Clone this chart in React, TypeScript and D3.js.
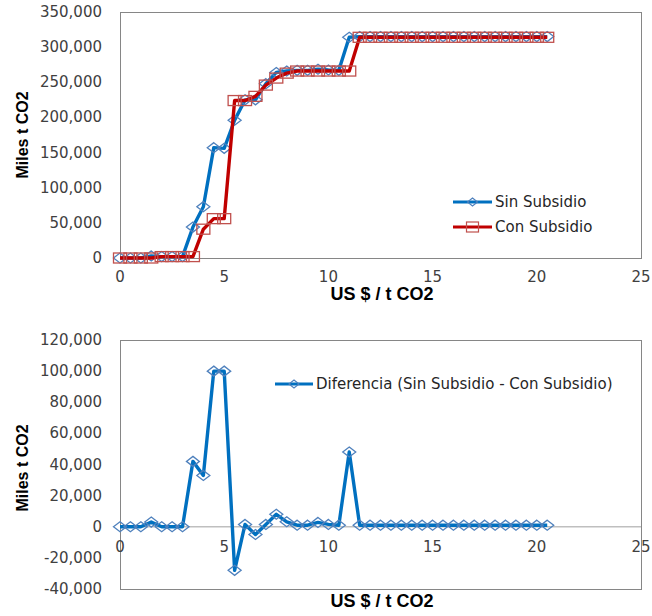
import React, { useEffect, useRef } from 'react';
import * as d3 from 'd3';

// precio (US$ / t CO2)
const precios = [0, 0.5, 1, 1.5, 2, 2.5, 3, 3.5, 4, 4.5, 5, 5.5, 6, 6.5, 7, 7.5, 8, 8.5, 9, 9.5, 10, 10.5,
  11, 11.5, 12, 12.5, 13, 13.5, 14, 14.5, 15, 15.5, 16, 16.5, 17, 17.5, 18, 18.5, 19, 19.5, 20, 20.5];

const sinSubsidio = [0, 0, 0, 3000, 2000, 2000, 2000, 44000, 73000, 157000, 156000, 196000, 225000, 225000,
  248000, 264000, 266000, 267000, 267000, 268500, 267500, 267000, 314000,
  315000, 315000, 315000, 315000, 315000, 315000, 315000, 315000, 315000, 315000,
  315000, 315000, 315000, 315000, 315000, 315000, 315000, 315000, 315000];

const conSubsidio = [0, 0, 0, 0, 2000, 2000, 2000, 2000, 41000, 56000, 56000, 224000, 224000, 230000,
  246000, 256000, 263000, 266000, 266000, 266000, 266000, 266000, 266000,
  314000, 314000, 314000, 314000, 314000, 314000, 314000, 314000, 314000, 314000,
  314000, 314000, 314000, 314000, 314000, 314000, 314000, 314000, 314000];

const diferencia = [0, 0, 0, 3000, 0, 0, 0, 42000, 33000, 100000, 100000, -28000, 1500, -5000,
  1500, 8000, 3200, 1000, 1000, 2800, 1500, 1000, 48000,
  1000, 1000, 1000, 1000, 1000, 1000, 1000, 1000, 1000, 1000,
  1000, 1000, 1000, 1000, 1000, 1000, 1000, 1000, 1000];

const xTicks = [0, 5, 10, 15, 20, 25];
const yTicksTop = [0, 50000, 100000, 150000, 200000, 250000, 300000, 350000];
const yTicksBottom = [-40000, -20000, 0, 20000, 40000, 60000, 80000, 100000, 120000];

const AZUL = '#0070C0';
const AZUL_MARCA = '#4F81BD';
const ROJO = '#C00000';
const ROJO_MARCA = '#C0504D';
const FONT = 'DejaVu Sans, sans-serif';
const BOLD = 'Liberation Sans, Arial, sans-serif';

const fmt = (d: number) => (d < 0 ? '-' : '') + d3.format(',')(Math.abs(d));

// rombo algo mas ancho que alto, como en la hoja original
const diamondPath = (w: number, h: number) => `M0,${-h / 2}L${w / 2},0L0,${h / 2}L${-w / 2},0Z`;

export default function App() {
  const svgRef = useRef<SVGSVGElement>(null);

  useEffect(() => {
    const svg = d3.select(svgRef.current);
    svg.selectAll('*').remove();

    const drawChart = (
      top: number, bottom: number, domain: [number, number], yTicks: number[],
      series: { values: number[]; color: string; marker: string; shape: string }[],
      xLabelY: number, titleY: number, yTitleCenter: number
    ) => {
      const x = d3.scaleLinear().domain([0, 25]).range([120, 641]);
      const y = d3.scaleLinear().domain(domain).range([bottom, top]);
      const g = svg.append('g');

      // zero line
      if (domain[0] < 0) {
        g.append('line')
          .attr('x1', x(0)).attr('x2', x(25))
          .attr('y1', y(0)).attr('y2', y(0))
          .attr('stroke', '#BFBFBF').attr('stroke-width', 1.5);
      }

      // plot border
      g.append('rect')
        .attr('x', x(0) + 0.5).attr('y', top + 0.5)
        .attr('width', x(25) - x(0)).attr('height', bottom - top)
        .attr('fill', 'none').attr('stroke', '#868686').attr('stroke-width', 1);

      // y tick labels
      g.selectAll('.ylab').data(yTicks).join('text')
        .attr('x', 102).attr('y', d => y(d) + 5)
        .attr('text-anchor', 'end')
        .attr('font-family', FONT).attr('font-size', 15).attr('fill', '#404040')
        .text(d => fmt(d));

      // x tick labels
      g.selectAll('.xlab').data(xTicks).join('text')
        .attr('x', d => x(d)).attr('y', xLabelY)
        .attr('text-anchor', 'middle')
        .attr('font-family', FONT).attr('font-size', 15).attr('fill', '#404040')
        .text(d => d);

      // axis titles
      g.append('text')
        .attr('x', 382).attr('y', titleY)
        .attr('text-anchor', 'middle')
        .attr('font-family', BOLD).attr('font-weight', 'bold').attr('font-size', 18)
        .text('US $ / t CO2');

      g.append('text')
        .attr('transform', `translate(28, ${yTitleCenter}) rotate(-90)`)
        .attr('text-anchor', 'middle')
        .attr('font-family', BOLD).attr('font-weight', 'bold').attr('font-size', 16)
        .text('Miles t CO2');

      series.forEach(s => {
        const line = d3.line<number>()
          .x((d, i) => x(precios[i]))
          .y(d => y(d));

        g.append('path')
          .attr('d', line(s.values))
          .attr('fill', 'none')
          .attr('stroke', s.color)
          .attr('stroke-width', 3.4)
          .attr('stroke-linejoin', 'round');

        if (s.shape === 'diamond') {
          g.selectAll(null).data(s.values).join('path')
            .attr('d', diamondPath(13, 10))
            .attr('transform', (d, i) => `translate(${x(precios[i])}, ${y(d)})`)
            .attr('fill', 'none').attr('stroke', s.marker).attr('stroke-width', 1.3);
        } else {
          g.selectAll(null).data(s.values).join('rect')
            .attr('x', (d, i) => x(precios[i]) - 6.5).attr('y', d => y(d) - 5)
            .attr('width', 13).attr('height', 10)
            .attr('fill', 'none').attr('stroke', s.marker).attr('stroke-width', 1.3);
        }
      });
      return g;
    };

    // grafico superior
    drawChart(12, 258, [0, 350000], yTicksTop, [
      { values: sinSubsidio, color: AZUL, marker: AZUL_MARCA, shape: 'diamond' },
      { values: conSubsidio, color: ROJO, marker: ROJO_MARCA, shape: 'square' },
    ], 282, 300, 135);

    // grafico inferior
    drawChart(340, 589, [-40000, 120000], yTicksBottom, [
      { values: diferencia, color: AZUL, marker: AZUL_MARCA, shape: 'diamond' },
    ], 552, 607, 468);

    // leyendas
    const legend = (x0: number, x1: number, yy: number, color: string, marker: string, shape: string, label: string) => {
      const lg = svg.append('g');
      lg.append('line').attr('x1', x0).attr('x2', x1).attr('y1', yy).attr('y2', yy)
        .attr('stroke', color).attr('stroke-width', 3.2);
      const mx = (x0 + x1) / 2;
      if (shape === 'diamond') {
        lg.append('path').attr('d', diamondPath(10, 8)).attr('transform', `translate(${mx}, ${yy})`)
          .attr('fill', 'none').attr('stroke', marker).attr('stroke-width', 1.2);
      } else {
        lg.append('rect').attr('x', mx - 6).attr('y', yy - 5).attr('width', 12).attr('height', 10)
          .attr('fill', 'none').attr('stroke', marker).attr('stroke-width', 1.2);
      }
      lg.append('text').attr('x', x1 + 3).attr('y', yy + 5)
        .attr('font-family', FONT).attr('font-size', 15).attr('fill', '#262626')
        .text(label);
    };

    legend(453, 492, 202, AZUL, AZUL_MARCA, 'diamond', 'Sin Subsidio');
    legend(453, 492, 227, ROJO, ROJO_MARCA, 'square', 'Con Subsidio');
    legend(275, 313, 384, AZUL, AZUL_MARCA, 'diamond', 'Diferencia (Sin Subsidio - Con Subsidio)');
  }, []);

  return (
    <svg ref={svgRef} width={652} height={616}
      style={{ position: 'absolute', left: 0, top: 0, background: 'white' }} />
  );
}
